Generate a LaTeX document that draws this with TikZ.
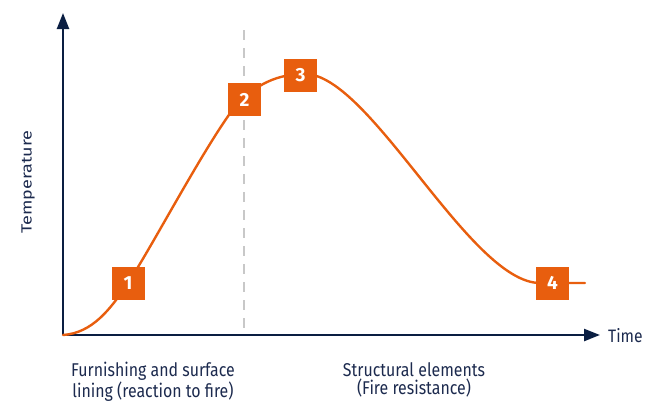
\documentclass[tikz,border=0pt]{standalone}
\usepackage{fontspec}
\setmainfont{Fira Sans}
\usetikzlibrary{arrows.meta}
\definecolor{fireorange}{RGB}{232,94,14}
\definecolor{axisnavy}{RGB}{10,30,66}
\definecolor{labelnavy}{RGB}{28,42,78}
\definecolor{phasegray}{RGB}{200,200,200}
\begin{document}
\begin{tikzpicture}[x=1pt,y=-1pt,
  axisline/.style={draw=axisnavy,line width=2.4pt,-{Triangle[length=16pt,width=12pt]}},
  phaseline/.style={draw=phasegray,line width=2.6pt,dash pattern=on 10pt off 8pt},
  fireline/.style={draw=fireorange,line width=2.4pt,line cap=round},
  stagebox/.style={fill=fireorange,minimum size=33pt,inner sep=0pt,text=white,
    font=\fontsize{19}{19}\selectfont\bfseries},
  axislabel/.style={text=labelnavy,inner sep=0pt,font=\fontsize{18}{18}\selectfont},
  phaselabel/.style={text=labelnavy,inner sep=0pt,align=center,
    font=\fontsize{18.5}{18.5}\selectfont}]
\useasboundingbox (0,0) rectangle (645,402);

% axes
\coordinate (origin) at (63,335);
\coordinate (ytip) at (63,13);
\coordinate (xtip) at (600,335);
\draw[axisline] (origin) -- (ytip);
\draw[axisline] (origin) -- (xtip);

% boundary between the two phases
\coordinate (splittop) at (244,30);
\coordinate (splitbot) at (244,335);
\draw[phaseline] (splittop) -- (splitbot);

% fire development curve
\coordinate (c1) at (128,283);
\coordinate (c2) at (231,112);
\coordinate (c3) at (305,74);
\coordinate (c4) at (540,283);
\coordinate (cend) at (585,283);
\draw[fireline] (origin) .. controls (92,333) and (110,310) .. (c1)
  .. controls (150,250) and (200,155) .. (c2)
  .. controls (255,82) and (280,74) .. (c3)
  .. controls (370,74) and (470,283) .. (c4) -- (cend);

% stage markers
\node[stagebox] (s1) at (128,283) {1};
\node[stagebox] (s2) at (244.5,99.5) {2};
\node[stagebox] (s3) at (300.5,75.5) {3};
\node[stagebox] (s4) at (552.5,283) {4};

% axis labels
\node[axislabel,rotate=90] (ylab) at (28,182) {\scalebox{1}[0.82]{Temperature}};
\node[axislabel,anchor=west] (xlab) at (608,335.5) {\scalebox{0.87}[1]{Time}};

% phase labels
\node[phaselabel,anchor=north] (p1) at (153,362) {\scalebox{0.86}[1]{Furnishing and surface}\\\scalebox{0.86}[1]{lining (reaction to fire)}};
\node[phaselabel,anchor=north] (p2) at (414,362) {\scalebox{0.86}[1]{Structural elements}\\\scalebox{0.86}[1]{(Fire resistance)}};
\end{tikzpicture}
\end{document}
